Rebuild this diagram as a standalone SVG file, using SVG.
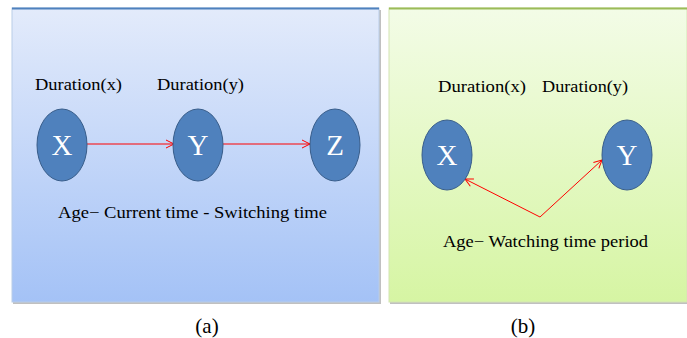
<svg xmlns="http://www.w3.org/2000/svg" width="687" height="338" viewBox="0 0 687 338">
<defs>
<linearGradient id="gA" x1="0" y1="0" x2="0" y2="1">
<stop offset="0" stop-color="#e3ebfb"/>
<stop offset="1" stop-color="#a4c2f6"/>
</linearGradient>
<linearGradient id="gB" x1="0" y1="0" x2="0" y2="1">
<stop offset="0" stop-color="#f3fce7"/>
<stop offset="1" stop-color="#d6f5a3"/>
</linearGradient>
<marker id="ah" markerWidth="10" markerHeight="10" refX="9" refY="5" orient="auto" markerUnits="userSpaceOnUse">
<path d="M1,1 L9,5 L1,9" fill="none" stroke="#ff0000" stroke-width="1"/>
</marker>
</defs>
<style>
text{font-family:'Liberation Serif','Times New Roman','DejaVu Serif',serif}
.node ellipse{fill:#4f81bd;stroke:#385d8a;stroke-width:1}
.node text{fill:#ffffff;font-size:29px;text-anchor:middle}
.lbl{fill:#000;font-size:17px}
.cap{fill:#000;font-size:21px;text-anchor:middle}
.conn{stroke:#ff0000;stroke-width:1;fill:none;marker-end:url(#ah)}
</style>
<rect width="687" height="338" fill="#ffffff"/>
<g id="panelA">
<rect x="13" y="10" width="368" height="294" fill="#c0c0c0"/>
<rect x="12" y="8" width="367" height="294" fill="url(#gA)" stroke="#b9cde8" stroke-width="1"/>
<line x1="12" y1="8.5" x2="379" y2="8.5" stroke="#4f81bd" stroke-width="2"/>
</g>
<g id="panelB">
<rect x="390" y="10" width="297" height="294" fill="#c0c0c0"/>
<rect x="389" y="8" width="298" height="294" fill="url(#gB)" stroke="#d4e4b4" stroke-width="1"/>
<line x1="389" y1="8.5" x2="687" y2="8.5" stroke="#9bbb59" stroke-width="2"/>
</g>
<g id="labels">
<text class="lbl" x="35" y="90" textLength="87" lengthAdjust="spacingAndGlyphs">Duration(x)</text>
<text class="lbl" x="157" y="90" textLength="87" lengthAdjust="spacingAndGlyphs">Duration(y)</text>
<text class="lbl" x="58" y="218" textLength="269" lengthAdjust="spacingAndGlyphs">Age− Current time - Switching time</text>
<text class="lbl" x="438" y="92" textLength="88" lengthAdjust="spacingAndGlyphs">Duration(x)</text>
<text class="lbl" x="542" y="92" textLength="86" lengthAdjust="spacingAndGlyphs">Duration(y)</text>
<text class="lbl" x="443" y="247" textLength="205" lengthAdjust="spacingAndGlyphs">Age− Watching time period</text>
<text class="cap" x="207" y="333">(a)</text>
<text class="cap" x="523" y="333">(b)</text>
</g>
<g id="connectors">
<line class="conn" x1="87" y1="144" x2="174" y2="144"/>
<line class="conn" x1="223" y1="144" x2="310" y2="144"/>
<line class="conn" x1="540" y1="217" x2="465" y2="179"/>
<line class="conn" x1="540" y1="217" x2="602" y2="160"/>
</g>
<g id="a-X" class="node"><ellipse cx="62" cy="145" rx="25" ry="36"/><text x="62" y="155">X</text></g>
<g id="a-Y" class="node"><ellipse cx="198" cy="145" rx="25" ry="36"/><text x="198" y="155">Y</text></g>
<g id="a-Z" class="node"><ellipse cx="335" cy="145" rx="25" ry="36"/><text x="335" y="155">Z</text></g>
<g id="b-X" class="node"><ellipse cx="447" cy="155" rx="25" ry="35"/><text x="447" y="165">X</text></g>
<g id="b-Y" class="node"><ellipse cx="627" cy="155" rx="25" ry="35"/><text x="627" y="165">Y</text></g>
</svg>
